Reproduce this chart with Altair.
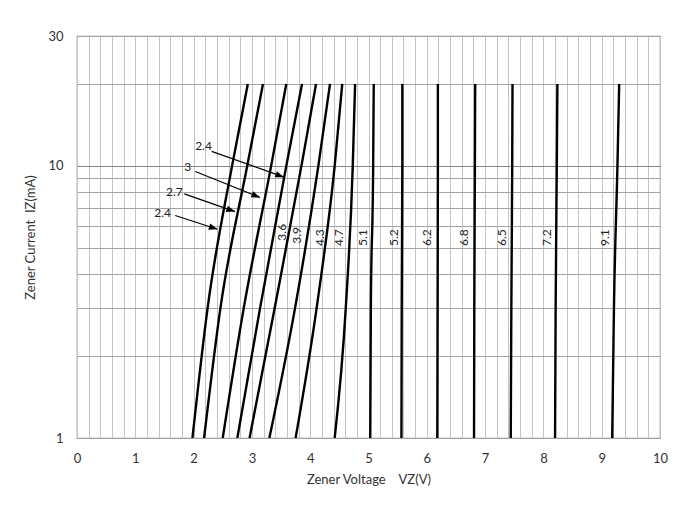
import altair as alt
import pandas as pd

# ---- data ----
curve_ids = ["2.4", "2.7", "3.0", "3.3", "3.6", "3.9", "4.3", "4.7", "5.1",
             "5.6", "6.2", "6.8", "7.5", "8.2", "9.1"]
current_pts = [1, 3, 10, 20]  # mA
curve_volts = [
    [1.98, 2.24, 2.66, 2.93],
    [2.18, 2.46, 2.92, 3.19],
    [2.50, 2.86, 3.33, 3.59],
    [2.75, 3.14, 3.59, 3.86],
    [2.96, 3.39, 3.85, 4.10],
    [3.30, 3.74, 4.14, 4.34],
    [3.75, 4.11, 4.42, 4.55],
    [4.42, 4.61, 4.73, 4.77],
    [5.03, 5.04, 5.08, 5.09],
    [5.565, 5.57, 5.58, 5.58],
    [6.18, 6.185, 6.19, 6.19],
    [6.81, 6.815, 6.825, 6.83],
    [7.44, 7.45, 7.465, 7.47],
    [8.20, 8.21, 8.23, 8.24],
    [9.18, 9.21, 9.27, 9.30],
]

vert_labels = ["3.6", "3.9", "4.3", "4.7", "5.1", "5.2", "6.2", "6.8", "6.5", "7.2", "9.1"]
vert_label_x = [3.52, 3.78, 4.16, 4.50, 4.91, 5.43, 6.01, 6.63, 7.29, 8.06, 9.06]
vert_label_y = [5.7, 5.55, 5.45, 5.45, 5.45, 5.45, 5.45, 5.45, 5.45, 5.45, 5.45]

arrow_text = ["2.4", "3", "2.7", "2.4"]
arrow_text_x = [2.17, 1.90, 1.67, 1.47]
arrow_text_y = [11.8, 9.89, 8.0, 6.70]
arrow_start_x = [2.31, 2.03, 1.84, 1.685]
arrow_start_y = [11.3, 9.53, 7.89, 6.57]
arrow_tip_x = [3.55, 3.14, 2.71, 2.41]
arrow_tip_y = [9.09, 7.65, 6.79, 5.85]
arrow_angle = [109.5, 111.8, 109.0, 107.8]

x_ticks = [round(i * 0.2, 1) for i in range(51)]
y_ticks = [1, 2, 3, 4, 5, 6, 7, 8, 9, 10, 20, 30]

# ---- tables ----
rows = []
for cid, vs in zip(curve_ids, curve_volts):
    for i, v in zip(current_pts, vs):
        rows.append({"curve": cid, "V": v, "I": i})
curves = pd.DataFrame(rows)
vlab = pd.DataFrame({"t": vert_labels, "V": vert_label_x, "I": vert_label_y})
arr = pd.DataFrame({"t": arrow_text, "tx": arrow_text_x, "ty": arrow_text_y,
                    "sx": arrow_start_x, "sy": arrow_start_y,
                    "ex": arrow_tip_x, "ey": arrow_tip_y, "ang": arrow_angle})

FONT = "Lato"
XT = "Zener Voltage\u00a0\u00a0\u00a0\u00a0VZ(V)"
YT = "Zener Current\u00a0\u00a0IZ(mA)"

xscale = alt.Scale(domain=[0, 10], nice=False, zero=False)
yscale = alt.Scale(type="log", domain=[1, 30], nice=False)


def xaxis():
    return alt.Axis(values=x_ticks, title=XT,
                    labelExpr="abs(datum.value - round(datum.value)) < 0.01 ? format(datum.value, 'd') : ''",
                    grid=True, gridColor="#c4c4c4", gridWidth=1, ticks=False, domain=False,
                    labelPadding=14, titlePadding=8, labelFlush=False, labelOverlap=False)


def yaxis():
    return alt.Axis(values=y_ticks, title=YT,
                    labelExpr="datum.value == 1 || datum.value == 10 || datum.value == 30 ? datum.value : ''",
                    grid=True,
                    gridColor={"condition": {"test": "datum.value == 10", "value": "#858585"},
                               "value": "#a4a4a4"},
                    gridWidth=1, ticks=False, domain=False,
                    labelPadding=14, titlePadding=10, labelOverlap=False, labelFlush=False)


lines = alt.Chart(curves).mark_line(color="black", strokeWidth=2.4, interpolate="monotone", clip=True).encode(
    x=alt.X("V:Q", scale=xscale, axis=xaxis()),
    y=alt.Y("I:Q", scale=yscale, axis=yaxis()),
    detail="curve:N", order="I:Q")

vtext = alt.Chart(vlab).mark_text(angle=270, font=FONT, fontSize=12, color="#222",
                                  align="center", baseline="middle").encode(
    x=alt.X("V:Q", scale=xscale, axis=xaxis()),
    y=alt.Y("I:Q", scale=yscale, axis=yaxis()), text="t:N")

shafts = alt.Chart(arr).mark_rule(color="black", strokeWidth=1.2).encode(
    x=alt.X("sx:Q", scale=xscale, axis=xaxis()), y=alt.Y("sy:Q", scale=yscale, axis=yaxis()),
    x2="ex:Q", y2="ey:Q")

heads = alt.Chart(arr).mark_point(shape="M0,0L-0.38,1L0.38,1Z", filled=True, color="black",
                                  opacity=1, size=300, strokeWidth=0).encode(
    x=alt.X("ex:Q", scale=xscale, axis=xaxis()), y=alt.Y("ey:Q", scale=yscale, axis=yaxis()),
    angle=alt.Angle("ang:Q", scale=None))

atext = alt.Chart(arr).mark_text(font=FONT, fontSize=12, color="#222",
                                 align="center", baseline="middle").encode(
    x=alt.X("tx:Q", scale=xscale, axis=xaxis()), y=alt.Y("ty:Q", scale=yscale, axis=yaxis()), text="t:N")

chart = alt.layer(lines, vtext, shafts, heads, atext).properties(
    width=583, height=402,
    autosize=alt.AutoSizeParams(type="none"),
    padding={"left": 69, "top": 28, "right": 23, "bottom": 72},
    background="white",
).configure_view(stroke="#888888", strokeWidth=1.2).configure_axis(
    labelFont=FONT, labelFontSize=13, labelColor="#333",
    titleFont=FONT, titleFontSize=13, titleColor="#333", titleFontWeight="normal",
)

chart.save("out.html", embed_options={"renderer": "svg", "actions": False})
